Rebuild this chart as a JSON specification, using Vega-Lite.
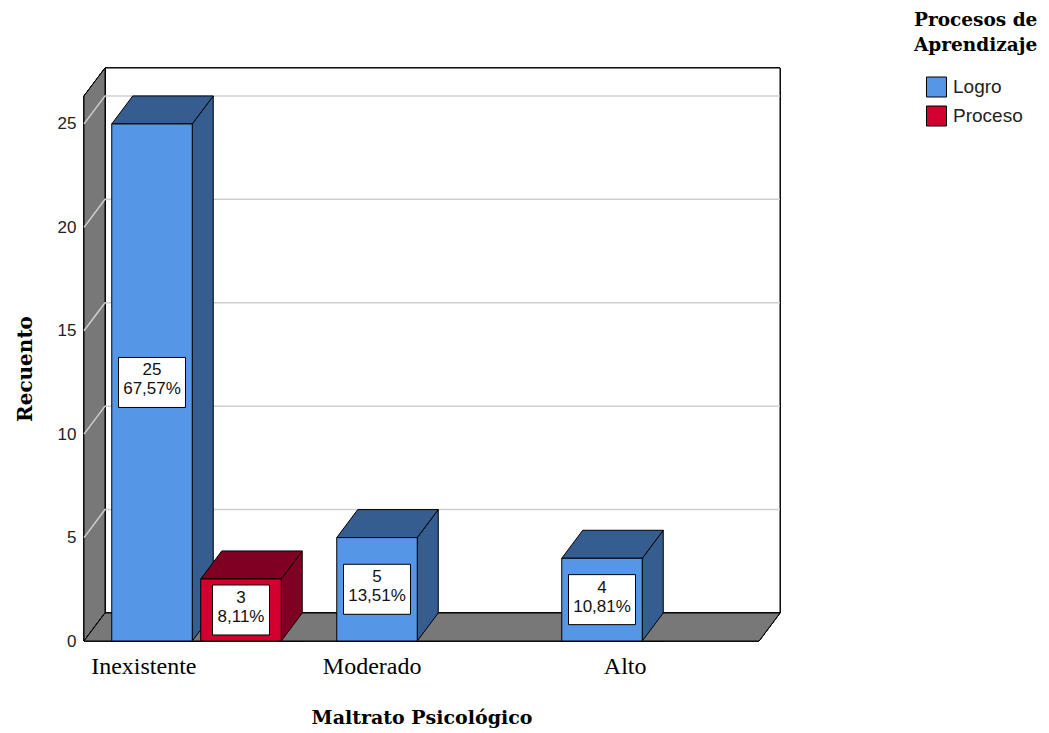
{
  "$schema": "https://vega.github.io/schema/vega-lite/v6.json",
  "width": 675,
  "height": 545,
  "autosize": {"type": "none"},
  "padding": {"left": 84, "top": 96, "right": 290, "bottom": 92},
  "background": "white",
  "config": {"view": {"stroke": null}},
  "data": {
    "values": [
      {"cat": "Inexistente", "grp": "Logro", "n": 25, "pct": "67,57%"},
      {"cat": "Inexistente", "grp": "Proceso", "n": 3, "pct": "8,11%"},
      {"cat": "Moderado", "grp": "Logro", "n": 5, "pct": "13,51%"},
      {"cat": "Alto", "grp": "Logro", "n": 4, "pct": "10,81%"}
    ]
  },
  "layer": [
    {
      "layer": [
        {
          "mark": {"type": "point", "shape": "M21,-28H696V-573H21Z", "size": 4, "filled": true, "fill": "white", "stroke": "black", "strokeWidth": 1, "opacity": 1},
          "encoding": {
            "x": {"datum": "Inexistente", "type": "nominal", "bandPosition": 0},
            "y": {"datum": 0, "type": "quantitative"}
          }
        },
        {
          "mark": {"type": "point", "shape": "M0,0V-545L21,-573V-28Z", "size": 4, "filled": true, "fill": "#787878", "stroke": "black", "strokeWidth": 1, "opacity": 1},
          "encoding": {
            "x": {"datum": "Inexistente", "type": "nominal", "bandPosition": 0},
            "y": {"datum": 0, "type": "quantitative"}
          }
        },
        {
          "data": {"values": [{"v": 5}, {"v": 10}, {"v": 15}, {"v": 20}, {"v": 25}]},
          "mark": {"type": "point", "shape": "M0,0L21,-28H696", "size": 4, "filled": false, "stroke": "#cfcfcf", "strokeWidth": 1.5, "opacity": 1},
          "encoding": {
            "x": {"datum": "Inexistente", "type": "nominal", "bandPosition": 0},
            "y": {"field": "v", "type": "quantitative"}
          }
        },
        {
          "mark": {"type": "point", "shape": "M0,0L21,-28H696L675,0Z", "size": 4, "filled": true, "fill": "#787878", "stroke": "black", "strokeWidth": 1, "opacity": 1},
          "encoding": {
            "x": {"datum": "Inexistente", "type": "nominal", "bandPosition": 0},
            "y": {"datum": 0, "type": "quantitative"}
          }
        },
        {
          "mark": {"type": "point", "shape": "M40.25,0L61.25,-28L61.25,700L40.25,700Z", "size": 4, "filled": true, "stroke": "black", "strokeWidth": 1, "opacity": 1, "clip": true},
          "encoding": {
            "x": {"field": "cat", "type": "nominal"},
            "xOffset": {"field": "grp", "type": "nominal"},
            "y": {"field": "n", "type": "quantitative"},
            "fill": {"condition": {"test": "datum.grp === 'Proceso'", "value": "#7f0020"}, "value": "#355d90"}
          }
        },
        {
          "mark": {"type": "point", "shape": "M62,0L40.25,0L61.25,-28L62,-28", "size": 4, "filled": true, "fill": "#787878", "stroke": "black", "strokeWidth": 1, "opacity": 1},
          "encoding": {
            "x": {"field": "cat", "type": "nominal"},
            "xOffset": {"field": "grp", "type": "nominal"},
            "y": {"datum": 0, "type": "quantitative"}
          }
        },
        {
          "mark": {"type": "point", "shape": "M-40.25,0L-19.25,-28L61.25,-28L40.25,0Z", "size": 4, "filled": true, "stroke": "black", "strokeWidth": 1, "opacity": 1},
          "encoding": {
            "x": {"field": "cat", "type": "nominal"},
            "xOffset": {"field": "grp", "type": "nominal"},
            "y": {"field": "n", "type": "quantitative"},
            "fill": {"condition": {"test": "datum.grp === 'Proceso'", "value": "#7f0020"}, "value": "#355d90"}
          }
        },
        {
          "mark": {"type": "bar", "stroke": "black", "strokeWidth": 1},
          "encoding": {
            "x": {
              "field": "cat",
              "type": "nominal",
              "sort": ["Inexistente", "Moderado", "Alto"],
              "scale": {"domain": ["Inexistente", "Moderado", "Alto"], "paddingInner": 0, "paddingOuter": 0},
              "axis": {
                "title": "Maltrato Psicológico",
                "labelAngle": 0,
                "domain": false,
                "ticks": false,
                "labelFont": "Liberation Serif",
                "labelFontSize": 24,
                "labelColor": "black",
                "labelPadding": 25,
                "titleFont": "DejaVu Serif",
                "titleFontSize": 19,
                "titleFontWeight": "bold",
                "titleColor": "black",
                "titlePadding": 30
              }
            },
            "xOffset": {
              "field": "grp",
              "type": "nominal",
              "scale": {"domain": ["Logro", "Proceso"], "paddingInner": 0.0955, "paddingOuter": 0.312}
            },
            "y": {
              "field": "n",
              "type": "quantitative",
              "scale": {"domain": [0, 26.35], "nice": false, "zero": true},
              "axis": {
                "title": "Recuento",
                "values": [0, 5, 10, 15, 20, 25],
                "grid": false,
                "domain": false,
                "ticks": false,
                "labelFont": "Liberation Sans",
                "labelFontSize": 17,
                "labelColor": "#222222",
                "labelPadding": 8,
                "titleFont": "DejaVu Serif",
                "titleFontSize": 20,
                "titleFontWeight": "bold",
                "titleColor": "black",
                "titlePadding": 22
              }
            },
            "fill": {
              "field": "grp",
              "type": "nominal",
              "scale": {"domain": ["Logro", "Proceso"], "range": ["#5596e6", "#d2002f"]},
              "legend": {
                "title": ["Procesos de", "Aprendizaje"],
                "orient": "none",
                "legendX": 830,
                "legendY": -85,
                "padding": 0,
                "titleFont": "DejaVu Serif",
                "titleFontSize": 18.5,
                "titleFontWeight": "bold",
                "titleColor": "black",
                "titleLineHeight": 25,
                "titlePadding": 22,
                "symbolType": "square",
                "symbolSize": 400,
                "symbolStrokeColor": "black",
                "symbolStrokeWidth": 1,
                "symbolOffset": 12,
                "labelFont": "Liberation Sans",
                "labelFontSize": 19,
                "labelColor": "#222222",
                "labelOffset": 6,
                "rowPadding": 4
              }
            }
          }
        }
      ]
    },
    {
      "layer": [
        {
          "mark": {"type": "point", "size": 4, "filled": true, "fill": "white", "stroke": "black", "strokeWidth": 1, "opacity": 1},
          "encoding": {
            "x": {"field": "cat", "type": "nominal"},
            "xOffset": {"field": "grp", "type": "nominal"},
            "y": {"field": "n", "type": "quantitative", "scale": {"domain": [0, 52.7], "nice": false, "zero": true}, "axis": null},
            "shape": {"condition": {"test": "datum.grp === 'Proceso'", "value": "M-28.5,-25H28.5V25H-28.5Z"}, "value": "M-33.5,-25H33.5V25H-33.5Z"}
          }
        },
        {
          "mark": {"type": "text", "font": "Liberation Sans", "fontSize": 17, "color": "#111111", "baseline": "middle", "dy": -12},
          "encoding": {
            "x": {"field": "cat", "type": "nominal"},
            "xOffset": {"field": "grp", "type": "nominal"},
            "y": {"field": "n", "type": "quantitative"},
            "text": {"field": "n", "type": "quantitative"}
          }
        },
        {
          "mark": {"type": "text", "font": "Liberation Sans", "fontSize": 17, "color": "#111111", "baseline": "middle", "dy": 7},
          "encoding": {
            "x": {"field": "cat", "type": "nominal"},
            "xOffset": {"field": "grp", "type": "nominal"},
            "y": {"field": "n", "type": "quantitative"},
            "text": {"field": "pct", "type": "nominal"}
          }
        }
      ]
    }
  ],
  "resolve": {"scale": {"y": "independent"}}
}
